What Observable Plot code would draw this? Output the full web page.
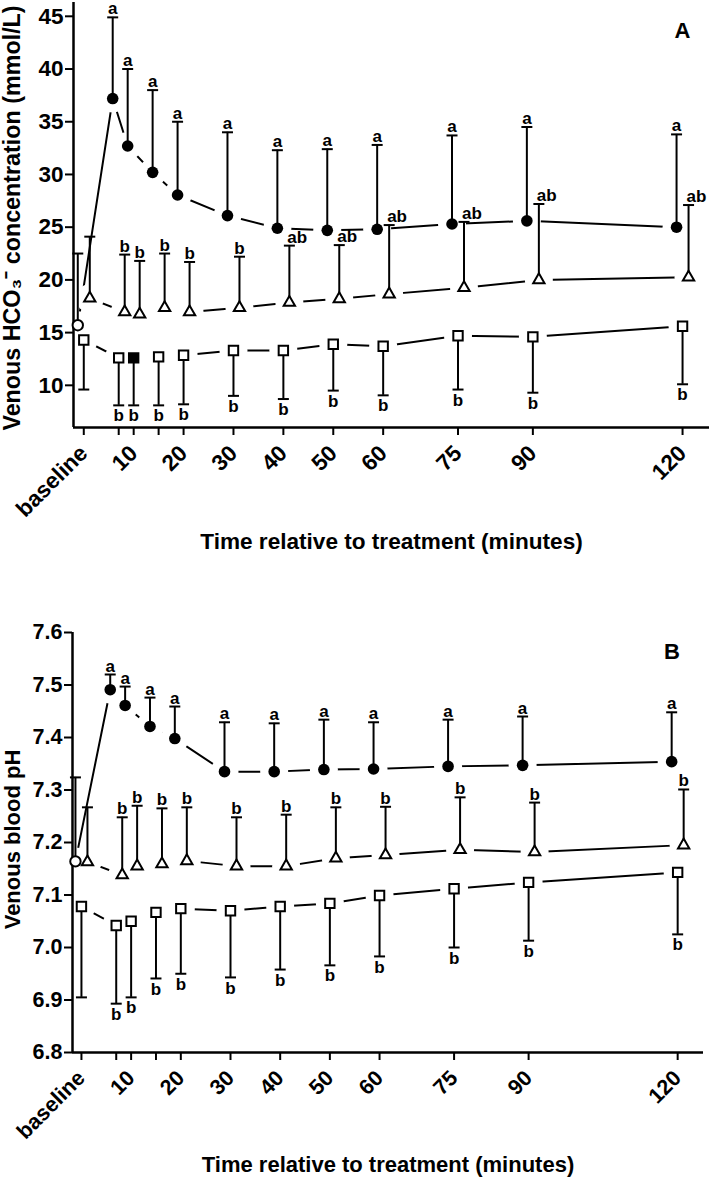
<!DOCTYPE html>
<html>
<head>
<meta charset="utf-8">
<script src="https://cdn.jsdelivr.net/npm/d3@7"></script>
<script src="https://cdn.jsdelivr.net/npm/@observablehq/plot@0.6"></script>
<style>
  html, body { margin: 0; padding: 0; background: #fff; }
  svg { display: block; }
</style>
</head>
<body>
<div id="panelA"></div>
<div id="panelB"></div>
<script>
// ---------- shared categories ----------
const times = [0, 7, 10, 15, 20, 30, 40, 50, 60, 75, 90, 120];
const xTickLabels = ["baseline", "", "10", "", "20", "30", "40", "50", "60", "75", "90", "120"];
const xTitle = "Time relative to treatment (minutes)";

// ---------- Panel A: venous HCO3- (mmol/L) ----------
const yTicksA = [10, 15, 20, 25, 30, 35, 40, 45];
const yTitleA = "Venous HCO\u2083\u207B concentration (mmol/L)";
const hco3Circle    = [15.7, 37.2, 32.7, 30.2, 28.05, 26.1, 24.9, 24.7, 24.8, 25.3, 25.6, 25.0];
const hco3CircleBar = [22.5, 44.9, 40.0, 38.0, 35.0, 34.0, 32.3, 32.4, 32.8, 33.7, 34.5, 33.8];
const hco3CircleSig = ["", "a", "a", "a", "a", "a", "a", "a", "a", "a", "a", "a"];
const hco3Tri       = [18.25, 16.95, 16.75, 17.35, 16.95, 17.35, 17.85, 18.2, 18.65, 19.25, 20.0, 20.25];
const hco3TriBar    = [24.1, 22.4, 21.8, 22.5, 21.7, 22.2, 23.25, 23.3, 25.2, 25.5, 27.2, 27.1];
const hco3TriSig    = ["", "b", "b", "b", "b", "b", "ab", "ab", "ab", "ab", "ab", "ab"];
const hco3Sq        = [14.3, 12.6, 12.6, 12.7, 12.85, 13.3, 13.3, 13.9, 13.7, 14.7, 14.6, 15.6];
const hco3SqBar     = [9.6, 8.1, 8.1, 8.1, 8.2, 9.0, 8.7, 9.5, 9.05, 9.6, 9.3, 10.1];
const hco3SqSig     = ["", "b", "b", "b", "b", "b", "b", "b", "b", "b", "b", "b"];
const hco3FilledSquareTimes = [10];

// ---------- Panel B: venous blood pH ----------
const yTicksB = [6.8, 6.9, 7.0, 7.1, 7.2, 7.3, 7.4, 7.5, 7.6];
const yTitleB = "Venous blood pH";
const phCircle    = [7.164, 7.491, 7.461, 7.421, 7.398, 7.335, 7.335, 7.339, 7.340, 7.345, 7.347, 7.354];
const phCircleBar = [7.324, 7.520, 7.497, 7.476, 7.459, 7.429, 7.427, 7.434, 7.429, 7.434, 7.440, 7.448];
const phCircleSig = ["", "a", "a", "a", "a", "a", "a", "a", "a", "a", "a", "a"];
const phTri       = [7.163, 7.138, 7.155, 7.159, 7.165, 7.155, 7.155, 7.170, 7.176, 7.186, 7.182, 7.195];
const phTriBar    = [7.267, 7.248, 7.270, 7.265, 7.267, 7.248, 7.253, 7.267, 7.268, 7.286, 7.276, 7.301];
const phTriSig    = ["", "b", "b", "b", "b", "b", "b", "b", "b", "b", "b", "b"];
const phSq        = [7.078, 7.042, 7.050, 7.067, 7.074, 7.070, 7.078, 7.084, 7.099, 7.112, 7.124, 7.143];
const phSqBar     = [6.905, 6.893, 6.905, 6.941, 6.950, 6.943, 6.958, 6.966, 6.983, 7.000, 7.013, 7.025];
const phSqSig     = ["", "b", "b", "b", "b", "b", "b", "b", "b", "b", "b", "b"];
const phFilledSquareTimes = [];

// ---------- helpers ----------
const rowsOf = (v, bar, sig) => times.map((t, i) => ({t, v: v[i], bar: bar[i], sig: sig[i]}));
const capSymbol = {
  draw(context, size) {
    const w = Math.sqrt(size / Math.PI);
    context.moveTo(-w, 0);
    context.lineTo(w, 0);
  }
};
const tickLabelMap = new Map(times.map((t, i) => [t, xTickLabels[i]]));
const FONT = "'Liberation Sans', Arial, Helvetica, sans-serif";

function panel(cfg) {
  const C = rowsOf(...cfg.circle), T = rowsOf(...cfg.tri), S = rowsOf(...cfg.sq);
  const dC = -6, dT = 6, dS = 0;
  const marks = [];
  // connecting lines
  for (const [rows, dx] of [[C, dC], [T, dT], [S, dS]]) {
    marks.push(Plot.line(rows, {x: "t", y: "v", dx, stroke: "black", strokeWidth: 2}));
  }
  // white halos (gaps in the lines around the symbols)
  for (const [rows, dx] of [[C, dC], [T, dT], [S, dS]]) {
    marks.push(Plot.dot(rows, {x: "t", y: "v", dx, r: 14, fill: "white", stroke: "none"}));
  }
  // axis lines
  marks.push(Plot.ruleX([cfg.xDomain[0]], {stroke: "black", strokeWidth: 2.5}));
  marks.push(Plot.ruleY([cfg.yDomain[0]], {stroke: "black", strokeWidth: 2.5}));
  // error bars + caps
  for (const [rows, dx] of [[C, dC], [T, dT], [S, dS]]) {
    marks.push(Plot.ruleX(rows, {x: "t", y1: "v", y2: "bar", dx, stroke: "black", strokeWidth: 2}));
    marks.push(Plot.dot(rows, {x: "t", y: "bar", dx, symbol: capSymbol, r: 5.5, fill: "none", stroke: "black", strokeWidth: 2}));
  }
  // symbols
  marks.push(Plot.dot(C.filter(d => d.t !== 0), {x: "t", y: "v", dx: dC, r: 5.8, fill: "black", stroke: "none"}));
  marks.push(Plot.dot(C.filter(d => d.t === 0), {x: "t", y: "v", dx: dC, r: 5.2, fill: "white", stroke: "black", strokeWidth: 2}));
  marks.push(Plot.dot(T, {x: "t", y: "v", dx: dT, symbol: "triangle", r: 4.2, fill: "white", stroke: "black", strokeWidth: 2}));
  marks.push(Plot.dot(S.filter(d => !cfg.filledSq.includes(d.t)), {x: "t", y: "v", dx: dS, symbol: "square", r: 5.3, fill: "white", stroke: "black", strokeWidth: 2}));
  marks.push(Plot.dot(S.filter(d => cfg.filledSq.includes(d.t)), {x: "t", y: "v", dx: dS, symbol: "square", r: 5.3, fill: "black", stroke: "black", strokeWidth: 2}));
  // significance letters
  const fs = cfg.sigSize;
  marks.push(Plot.text(C, {x: "t", y: "bar", dx: dC, text: "sig", dy: -3, lineAnchor: "bottom", fontSize: fs}));
  marks.push(Plot.text(T.filter(d => d.sig !== "ab"), {x: "t", y: "bar", dx: dT, text: "sig", dy: -3, lineAnchor: "bottom", fontSize: fs}));
  marks.push(Plot.text(T.filter(d => d.sig === "ab"), {x: "t", y: "bar", dx: dT - 2, text: "sig", dy: -3, lineAnchor: "bottom", textAnchor: "start", fontSize: fs}));
  marks.push(Plot.text(S, {x: "t", y: "bar", dx: dS, text: "sig", dy: 4, lineAnchor: "top", fontSize: fs}));
  // axes
  marks.push(Plot.axisY({ticks: cfg.yTicks, tickFormat: cfg.yFormat, tickSize: 8, tickPadding: 2, fontSize: cfg.tickSize, strokeWidth: 2, label: null}));
  marks.push(Plot.axisX({ticks: times, tickFormat: d => tickLabelMap.get(d), tickRotate: -45, tickSize: 8, tickPadding: 14, fontSize: cfg.tickSize, strokeWidth: 2, label: null}));
  // titles
  marks.push(Plot.text([cfg.yTitle], {text: d => d, frameAnchor: "left", rotate: -90, dx: cfg.yTitleDx, dy: cfg.yTitleDy, fontSize: cfg.yTitleSize, textAnchor: "middle", lineAnchor: "middle"}));
  marks.push(Plot.text([xTitle], {text: d => d, frameAnchor: "bottom", dy: cfg.xTitleDy, fontSize: cfg.xTitleSize, textAnchor: "middle", lineAnchor: "middle"}));
  marks.push(Plot.text([cfg.letter], {text: d => d, frameAnchor: "top-right", dx: cfg.letterDx, dy: cfg.letterDy, fontSize: 22, textAnchor: "middle", lineAnchor: "middle"}));

  return Plot.plot({
    width: 709,
    height: cfg.height,
    marginLeft: cfg.marginLeft,
    marginRight: cfg.marginRight,
    marginTop: cfg.marginTop,
    marginBottom: cfg.marginBottom,
    style: {fontFamily: FONT, fontWeight: "bold", color: "black", background: "white", overflow: "visible"},
    x: {type: "linear", domain: cfg.xDomain, axis: null},
    y: {type: "linear", domain: cfg.yDomain, axis: null},
    marks
  });
}

document.getElementById("panelA").appendChild(panel({
  circle: [hco3Circle, hco3CircleBar, hco3CircleSig],
  tri: [hco3Tri, hco3TriBar, hco3TriSig],
  sq: [hco3Sq, hco3SqBar, hco3SqSig],
  filledSq: hco3FilledSquareTimes,
  xDomain: [-2.06, 125.4], yDomain: [6, 46.31],
  yTicks: yTicksA, yFormat: d3.format("d"), yTitle: yTitleA,
  height: 577, marginLeft: 73, marginRight: 0, marginTop: 2, marginBottom: 150,
  tickSize: 22.5, sigSize: 17, yTitleSize: 23.3, xTitleSize: 22.6,
  yTitleDx: -61, yTitleDy: 3, xTitleDy: 114,
  letter: "A", letterDx: -27, letterDy: 28
}));

document.getElementById("panelB").appendChild(panel({
  circle: [phCircle, phCircleBar, phCircleSig],
  tri: [phTri, phTriBar, phTriSig],
  sq: [phSq, phSqBar, phSqSig],
  filledSq: phFilledSquareTimes,
  xDomain: [-1.8, 125.2], yDomain: [6.8, 7.6],
  yTicks: yTicksB, yFormat: d3.format(".1f"), yTitle: yTitleB,
  height: 606, marginLeft: 72, marginRight: 6, marginTop: 55, marginBottom: 131,
  tickSize: 21.5, sigSize: 17, yTitleSize: 22, xTitleSize: 22,
  yTitleDx: -60, yTitleDy: -3, xTitleDy: 112,
  letter: "B", letterDx: -31.5, letterDy: 19.5
}));
</script>
</body>
</html>
